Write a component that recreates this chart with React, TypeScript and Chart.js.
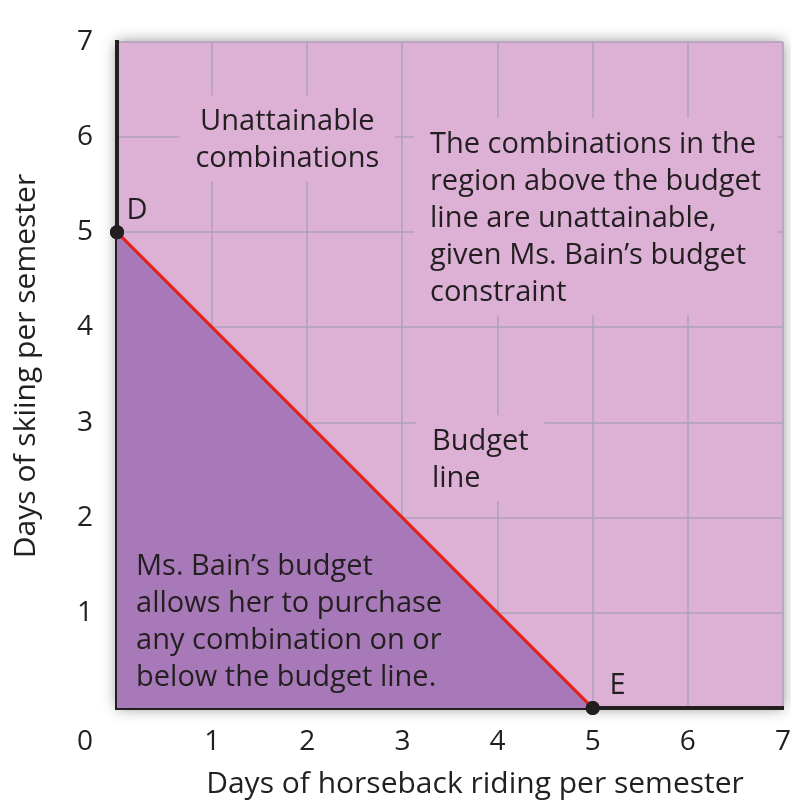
import { useEffect, useRef } from 'react';
import { Chart, registerables } from 'chart.js';

Chart.register(...registerables);

// ---- data ----
const budgetX = [0, 5];
const budgetY = [5, 0];
const pointLabels = ['D', 'E'];
const xTickValues = [1, 2, 3, 4, 5, 6, 7];
const yTickValues = [1, 2, 3, 4, 5, 6, 7];
const originLabel = '0';
const xTitle = 'Days of horseback riding per semester';
const yTitle = 'Days of skiing per semester';
const noteUnattainable = ['Unattainable', 'combinations'];
const noteAbove = [
  'The combinations in the',
  'region above the budget',
  'line are unattainable,',
  'given Ms. Bain\u2019s budget',
  'constraint',
];
const noteBudget = ['Budget', 'line'];
const noteBelow = [
  'Ms. Bain\u2019s budget',
  'allows her to purchase',
  'any combination on or',
  'below the budget line.',
];

// ---- styles ----
const PINK = '#ddb0d6';
const PURPLE = '#a879b8';
const RED = '#e1251b';
const INK = '#231f20';
const FONT_FAMILY = '"Open Sans", sans-serif';
const FONT_SIZE = 29;
const TICK_SIZE = 28;
const TITLE_SIZE = 30;
const LINE_H = 37;

type Note = {
  lines: string[];
  x: number; // data coords anchor
  y: number;
  align: CanvasTextAlign;
  bg: string;
  perLine: boolean;
};

const notes: Note[] = [
  { lines: noteUnattainable, x: 1.79, y: 6.16, align: 'center', bg: PINK, perLine: false },
  { lines: noteAbove, x: 3.29, y: 5.92, align: 'left', bg: PINK, perLine: false },
  { lines: noteBudget, x: 3.31, y: 2.8, align: 'left', bg: PINK, perLine: false },
  { lines: noteBelow, x: 0.2, y: 1.48, align: 'left', bg: PURPLE, perLine: true },
];

const pointLabelOffsets = [
  { dx: 0.21, dy: 0.23 },
  { dx: 0.26, dy: 0.23 },
];

const decoPlugin = {
  id: 'deco',
  beforeDraw(chart: any) {
    const { ctx, chartArea: a } = chart;
    ctx.save();
    ctx.fillStyle = '#ffffff';
    ctx.fillRect(0, 0, chart.width, chart.height);
    ctx.shadowColor = 'rgba(0,0,0,0.45)';
    ctx.shadowBlur = 14;
    ctx.fillStyle = PINK;
    ctx.fillRect(a.left, a.top, a.right - a.left, a.bottom - a.top);
    ctx.restore();
  },
  afterDraw(chart: any) {
    const { ctx, chartArea: a } = chart;
    const xs = chart.scales.x;
    const ys = chart.scales.y;

    // redraw the budget line + points above the grid
    chart.getDatasetMeta(0).controller.draw();

    ctx.save();
    ctx.font = `${FONT_SIZE}px ${FONT_FAMILY}`;
    ctx.textBaseline = 'middle';

    // notes
    for (const n of notes) {
      const px = xs.getPixelForValue(n.x);
      const py = ys.getPixelForValue(n.y);
      const widths = n.lines.map((l) => ctx.measureText(l).width);
      const maxW = Math.max(...widths);
      ctx.fillStyle = n.bg;
      if (n.perLine) {
        n.lines.forEach((_, i) => {
          const w = widths[i];
          const left = n.align === 'center' ? px - w / 2 : px;
          ctx.fillRect(left - 10, py + i * LINE_H - LINE_H / 2, w + 16, LINE_H);
        });
      } else {
        const left = n.align === 'center' ? px - maxW / 2 : px;
        ctx.fillRect(
          left - 16,
          py - LINE_H / 2 - 8,
          maxW + 32,
          n.lines.length * LINE_H + 12
        );
      }
      ctx.fillStyle = INK;
      ctx.textAlign = n.align;
      n.lines.forEach((l, i) => ctx.fillText(l, px, py + i * LINE_H));
    }

    // point labels
    ctx.textAlign = 'center';
    pointLabels.forEach((lab, i) => {
      const px = xs.getPixelForValue(budgetX[i] + pointLabelOffsets[i].dx);
      const py = ys.getPixelForValue(budgetY[i] + pointLabelOffsets[i].dy);
      ctx.fillText(lab, px, py);
    });

    // tick labels
    ctx.font = `${TICK_SIZE}px ${FONT_FAMILY}`;
    ctx.fillStyle = INK;
    const yLabelX = a.left - 32;
    const xLabelY = a.bottom + 34;
    yTickValues.forEach((v) => {
      ctx.fillText(String(v), yLabelX, ys.getPixelForValue(v));
    });
    xTickValues.forEach((v) => {
      ctx.fillText(String(v), xs.getPixelForValue(v), xLabelY);
    });
    ctx.fillText(originLabel, yLabelX, xLabelY);

    // axis titles
    ctx.font = `${TITLE_SIZE}px ${FONT_FAMILY}`;
    ctx.fillText(xTitle, (a.left + a.right) / 2 + 25, a.bottom + 76);
    ctx.translate(26, (a.top + a.bottom) / 2 - 9);
    ctx.rotate(-Math.PI / 2);
    ctx.fillText(yTitle, 0, 0);
    ctx.restore();
  },
};

export default function App() {
  const ref = useRef<HTMLCanvasElement | null>(null);

  useEffect(() => {
    document.body.style.margin = '0';
    const canvas = ref.current;
    if (!canvas) return;
    const gridColor = 'rgba(175,160,185,0.75)';
    const chart = new Chart(canvas, {
      type: 'line',
      data: {
        datasets: [
          {
            data: budgetX.map((x, i) => ({ x, y: budgetY[i] })),
            borderColor: RED,
            borderWidth: 3,
            backgroundColor: PURPLE,
            fill: 'origin',
            pointRadius: 7,
            pointBackgroundColor: INK,
            pointBorderWidth: 0,
            tension: 0,
            clip: false as any,
          },
        ],
      },
      options: {
        responsive: false,
        animation: false,
        devicePixelRatio: 1,
        events: [],
        layout: { padding: { left: 117, top: 42, right: 8, bottom: 93 } },
        plugins: { legend: { display: false }, tooltip: { enabled: false } },
        scales: {
          x: {
            type: 'linear',
            min: 0,
            max: 7,
            z: 1,
            ticks: { display: false, stepSize: 1 },
            grid: { color: gridColor, lineWidth: 2, drawTicks: false },
            border: { display: true, color: INK, width: 4 },
            title: { display: false },
          },
          y: {
            type: 'linear',
            min: 0,
            max: 7,
            z: 1,
            ticks: { display: false, stepSize: 1 },
            grid: { color: gridColor, lineWidth: 2, drawTicks: false },
            border: { display: true, color: INK, width: 4 },
            title: { display: false },
          },
        },
      },
      plugins: [decoPlugin],
    });
    return () => chart.destroy();
  }, []);

  return (
    <div style={{ width: 791, height: 801, position: 'relative' }}>
      <canvas ref={ref} width={791} height={801} style={{ display: 'block' }} />
    </div>
  );
}
